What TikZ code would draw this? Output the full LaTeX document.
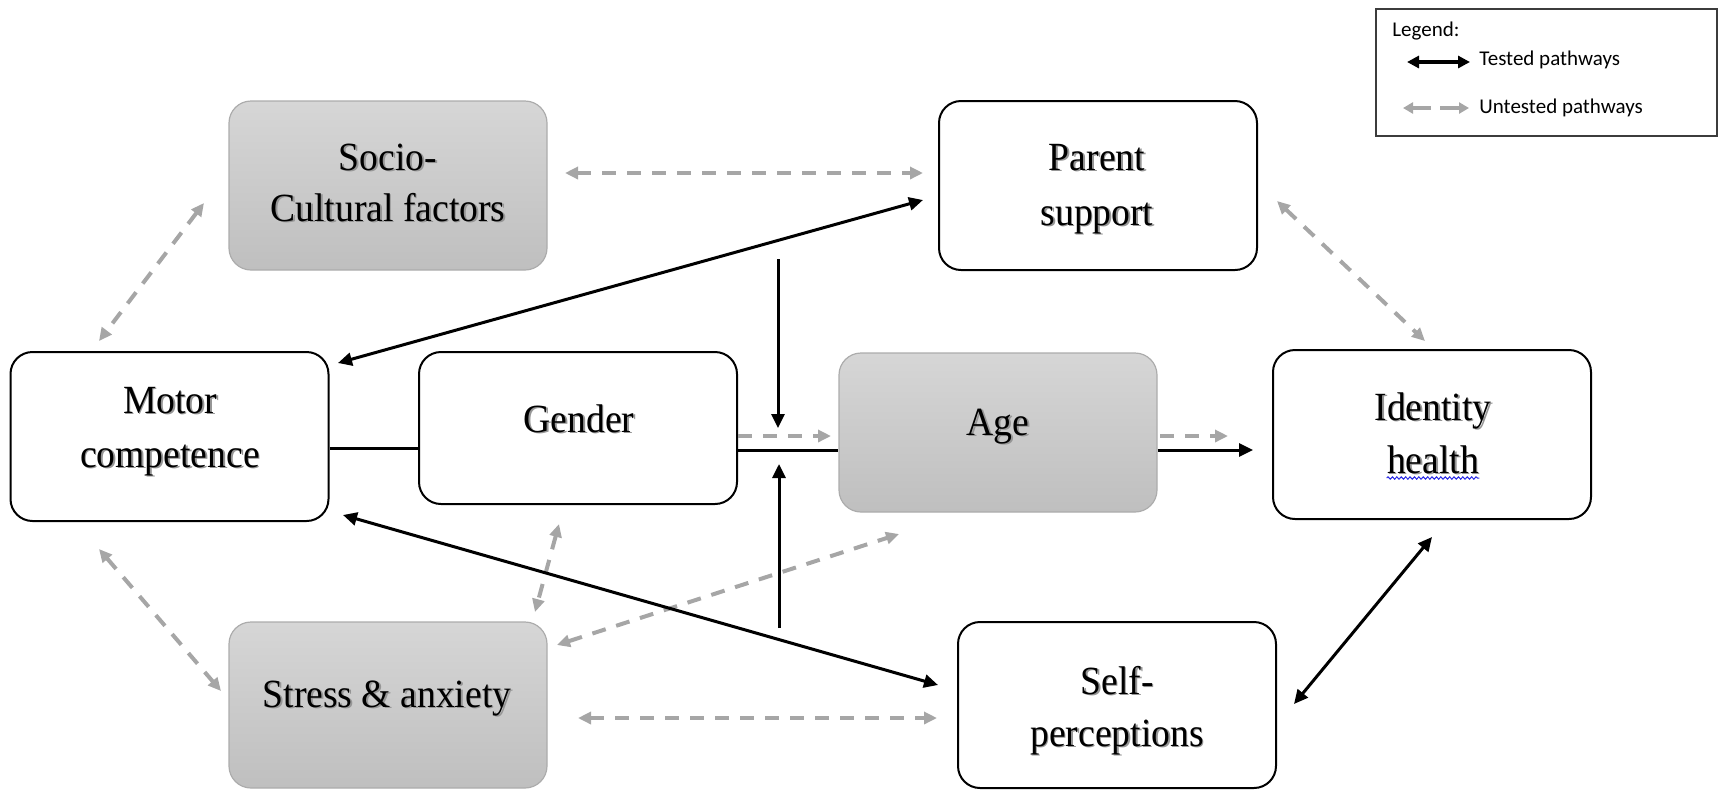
\documentclass[tikz,border=0pt]{standalone}
\usepackage{fontspec}
\newfontfamily\boxfont{Liberation Serif}[FakeStretch=0.94]
\newfontfamily\legendfont{Carlito}
\usetikzlibrary{arrows.meta,decorations.pathmorphing,calc}

\definecolor{shadeTop}{RGB}{214,214,214}
\definecolor{shadeBot}{RGB}{191,191,191}
\definecolor{softEdge}{RGB}{172,172,172}
\definecolor{untested}{RGB}{166,166,166}
\definecolor{legendEdge}{RGB}{60,60,60}
\definecolor{spellBlue}{RGB}{40,40,230}
\definecolor{textShadow}{RGB}{150,150,150}

% text with a soft drop shadow
\newcommand{\shtext}[1]{%
  \makebox[0pt][l]{\hspace{0.8pt}\raisebox{-0.8pt}{\textcolor{textShadow}{#1}}}#1}

\tikzset{
  whitebox/.style={draw=black, line width=1pt, rounded corners=11pt, fill=white,
    inner sep=0pt, minimum width=159pt, minimum height=84.5pt},
  greybox/.style={draw=softEdge, line width=0.6pt, rounded corners=11pt,
    top color=shadeTop, bottom color=shadeBot,
    inner sep=0pt, minimum width=159pt, minimum height=84.5pt},
  lbl/.style={anchor=base, inner sep=0pt, font=\boxfont\fontsize{20}{27}\selectfont},
  legtext/.style={anchor=west, inner sep=0pt, font=\legendfont\fontsize{10.5}{12}\selectfont},
  tested/.style={draw=black, line width=1.5pt, >={Triangle[length=7pt,width=6.5pt]}},
  untestedpath/.style={draw=untested, line width=2pt, dash pattern=on 7pt off 5.5pt,
    >={Triangle[length=6.5pt,width=6pt]}},
}

\begin{document}
\begin{tikzpicture}[x=0.5pt, y=-0.5pt]
\useasboundingbox (0,0) rectangle (1719,789);

% ---- boxes ----
\node[greybox]  (soc) at (388,185.5) {};
\node[whitebox] (par) at (1098,185.5) {};
\node[whitebox] (mot) at (169.5,436.5) {};
\node[whitebox, minimum height=76pt] (gen) at (578,428) {};
\node[greybox, minimum height=79.5pt] (age) at (998,432.5) {};
\node[whitebox] (ide) at (1432,434.5) {};
\node[greybox, minimum height=83pt]  (str) at (388,705) {};
\node[whitebox, minimum height=83pt] (slf) at (1117,705) {};

% ---- box texts ----
\node[lbl] (socA) at (388,170) {\shtext{Socio-}};
\node[lbl] (socB) at (388,221) {\shtext{Cultural factors}};
\node[lbl] (parA) at (1097,170) {\shtext{Parent}};
\node[lbl] (parB) at (1097,225) {\shtext{support}};
\node[lbl] (motA) at (170,413) {\shtext{Motor}};
\node[lbl] (motB) at (170,467) {\shtext{competence}};
\node[lbl] (genA) at (579,432) {\shtext{Gender}};
\node[lbl] (ageA) at (998,435) {\shtext{Age}};
\node[lbl] (ideA) at (1433,420) {\shtext{Identity}};
\node[lbl] (ideB) at (1433,473) {\shtext{health}};
\node[lbl] (strA) at (387,707) {\shtext{Stress \& anxiety}};
\node[lbl] (slfA) at (1117,694) {\shtext{Self-}};
\node[lbl] (slfB) at (1117,746) {\shtext{perceptions}};

% spell-check squiggle under "health"
\draw[spellBlue, line width=0.5pt, decorate,
  decoration={snake, amplitude=0.6pt, segment length=2.2pt}]
  ($(ideB.base west)+(0,5)$) -- ($(ideB.base east)+(0,5)$);

% ---- connector ends ----
\coordinate (sp1) at (565,173);  \coordinate (sp2) at (923,173);
\coordinate (sm1) at (204,203);  \coordinate (sm2) at (99,341);
\coordinate (pi1) at (1277,201); \coordinate (pi2) at (1425,341);
\coordinate (ms1) at (99,549);   \coordinate (ms2) at (221,691);
\coordinate (gs1) at (559,524);  \coordinate (gs2) at (535,612);
\coordinate (sa1) at (557,645);  \coordinate (sa2) at (899,534);
\coordinate (ss1) at (578,718);  \coordinate (ss2) at (937,718);
\coordinate (ga1) at (738,436);  \coordinate (ga2) at (831,436);
\coordinate (ai1) at (1160,436); \coordinate (ai2) at (1228,436);
\coordinate (lvlA) at (0,448);   \coordinate (lvlB) at (0,450);
\coordinate (ai3) at (1253,450);
\coordinate (dn1) at (778,259);  \coordinate (dn2) at (778,428);
\coordinate (up1) at (779,628);  \coordinate (up2) at (779,464);
\coordinate (mp1) at (338,363);  \coordinate (mp2) at (923,200);
\coordinate (mf1) at (343,515);  \coordinate (mf2) at (938,685);
\coordinate (is1) at (1432,537); \coordinate (is2) at (1294,704);

% ---- untested pathways ----
\draw[untestedpath,<->] (sp1) -- (sp2);
\draw[untestedpath,<->] (sm1) -- (sm2);
\draw[untestedpath,<->] (pi1) -- (pi2);
\draw[untestedpath,<->] (ms1) -- (ms2);
\draw[untestedpath,<->] (gs1) -- (gs2);
\draw[untestedpath,<->] (sa1) -- (sa2);
\draw[untestedpath,<->] (ss1) -- (ss2);
\draw[untestedpath,->]  (ga1) -- (ga2);
\draw[untestedpath,->]  (ai1) -- (ai2);

% ---- tested pathways ----
\draw[tested] (mot.east |- lvlA) -- (gen.west |- lvlA);
\draw[tested] (gen.east |- lvlB) -- (age.west |- lvlB);
\draw[tested,->] (age.east |- lvlB) -- (ai3);
\draw[tested,->] (dn1) -- (dn2);
\draw[tested,->] (up1) -- (up2);
\draw[tested,<->] (mp1) -- (mp2);
\draw[tested,<->] (mf1) -- (mf2);
\draw[tested,<->] (is1) -- (is2);

% ---- legend ----
\node[draw=legendEdge, line width=0.6pt, minimum width=170.5pt, minimum height=63.5pt,
  inner sep=0pt] (leg) at (1546.5,72.5) {};
\node[legtext] (legT) at (1392,31) {Legend:};
\node[legtext] (legA) at (1479,60) {Tested pathways};
\node[legtext] (legB) at (1479,108) {Untested pathways};
\coordinate (la1) at (1407,62);  \coordinate (la2) at (1470,62);
\coordinate (lb1) at (1431,108); \coordinate (lb2) at (1403,108);
\coordinate (lc1) at (1440,108); \coordinate (lc2) at (1469,108);
\draw[draw=black, line width=1.6pt, {Triangle[length=6pt,width=6pt]}-{Triangle[length=6pt,width=6pt]}] (la1) -- (la2);
\draw[draw=untested, line width=1.6pt, -{Triangle[length=5pt,width=5.5pt]}] (lb1) -- (lb2);
\draw[draw=untested, line width=1.6pt, -{Triangle[length=5pt,width=5.5pt]}] (lc1) -- (lc2);

\end{tikzpicture}
\end{document}
